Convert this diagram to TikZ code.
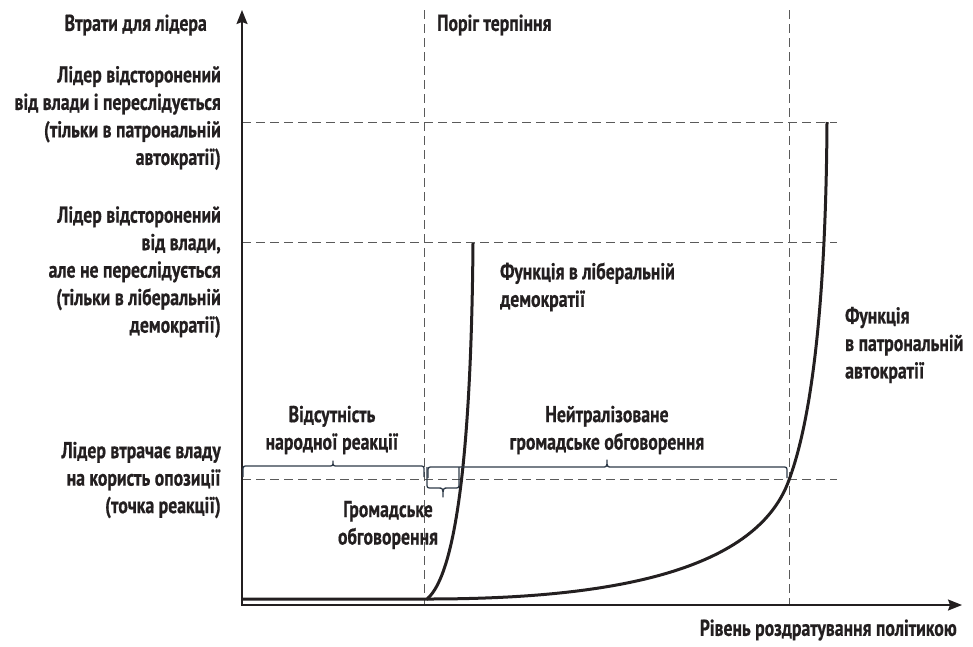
\documentclass[tikz,border=0pt]{standalone}
\usepackage{fontspec}
\setmainfont{PT Sans}[FakeStretch=0.77,FakeBold=0.6]
\usetikzlibrary{arrows.meta}
\definecolor{ink}{HTML}{231F20}
\definecolor{guidegray}{HTML}{5A5A5A}
\definecolor{bracecol}{HTML}{2E3A48}
\begin{document}
\begin{tikzpicture}[x=1pt,y=-1pt,
  lbl/.style={font=\fontsize{23}{27.5}\selectfont\bfseries, text=ink, inner sep=0pt},
  axisline/.style={line width=1.8pt, draw=ink, {Stealth[length=14pt,width=11pt,inset=2pt]}-{Stealth[length=14pt,width=11pt,inset=2pt]}},
  guide/.style={draw=guidegray, line width=1pt, dash pattern=on 9pt off 5pt},
  curve/.style={draw=ink, line width=3pt},
  bracestyle/.style={draw=bracecol, line width=1.3pt, line join=round}]
\useasboundingbox (0,0) rectangle (973,646);
% coordinates
\coordinate (O) at (242,605);
\coordinate (Ytop) at (242,10);
\coordinate (Xend) at (962,605);
\coordinate (T1top) at (424,10);
\coordinate (T1bot) at (424,605);
\coordinate (T2top) at (789,10);
\coordinate (T2bot) at (789,605);
\coordinate (H1a) at (242,122);
\coordinate (H1b) at (837,122);
\coordinate (H2a) at (242,242);
\coordinate (H2b) at (837,242);
\coordinate (H3a) at (242,479);
\coordinate (H3b) at (837,479);
\coordinate (C0) at (242,599);
\coordinate (C1) at (427,599);
\coordinate (Lib) at (473,243);
\coordinate (Cross) at (789,480);
\coordinate (Pat) at (827,122);
% guides
\draw[guide] (T1top) -- (T1bot);
\draw[guide] (T2top) -- (T2bot);
\draw[guide] (H1a) -- (H1b);
\draw[guide] (H2a) -- (H2b);
\draw[guide] (H3a) -- (H3b);
% axes
\draw[axisline] (Ytop) -- (O) -- (Xend);
% curves
\draw[curve] (C0) -- (C1) .. controls (452,578) and (471,480) .. (Lib);
\draw[curve] (C1) .. controls (600,599) and (755,575) .. (Cross) .. controls (815,410) and (826,280) .. (Pat);
% braces
\draw[bracestyle] (243,477) -- (243,471) .. controls (243,466) .. (248,466) -- (328,466) .. controls (333,466) .. (333,461) .. controls (333,466) .. (338,466) -- (419,466) .. controls (424,466) .. (424,471) -- (424,477);
\draw[bracestyle] (428,478) -- (428,472) .. controls (428,467) .. (433,467) -- (602,467) .. controls (607,467) .. (607,460) .. controls (607,467) .. (612,467) -- (782,467) .. controls (787,467) .. (787,472) -- (787,478);
\draw[bracestyle] (427,467) -- (427,483) .. controls (427,488) .. (432,488) -- (438,488) .. controls (443,488) .. (443,497) .. controls (443,488) .. (448,488) -- (454,488) .. controls (459,488) .. (459,483) -- (459,467);
% labels
\node[lbl, anchor=east] (ylab) at (207,25) {Втрати для лідера};
\node[lbl, anchor=east, align=right] (lvl3) at (221,118) {Лідер відсторонений\\від влади і переслідується\\(тільки в патрональній\\автократії)};
\node[lbl, anchor=east, align=right] (lvl2) at (221,272) {Лідер відсторонений\\від влади,\\але не переслідується\\(тільки в ліберальній\\демократії)};
\node[lbl, anchor=east, align=right] (lvl1) at (221,480) {Лідер втрачає владу\\на користь опозиції\\(точка реакції)};
\node[lbl, anchor=west] (thr) at (437,25) {Поріг терпіння};
\node[lbl, anchor=east] (xlab) at (957,630) {Рівень роздратування політикою};
\node[lbl, align=center] (absent) at (332,430) {Відсутність\\народної реакції};
\node[lbl, align=center] (neutral) at (607,430) {Нейтралізоване\\громадське обговорення};
\node[lbl, align=center] (public) at (388,525) {Громадське\\обговорення};
\node[lbl, anchor=west, align=left] (flib) at (500,287) {Функція в ліберальній\\демократії};
\node[lbl, anchor=west, align=left] (fpat) at (845,345) {Функція\\в патрональній\\автократії};
\end{tikzpicture}
\end{document}
